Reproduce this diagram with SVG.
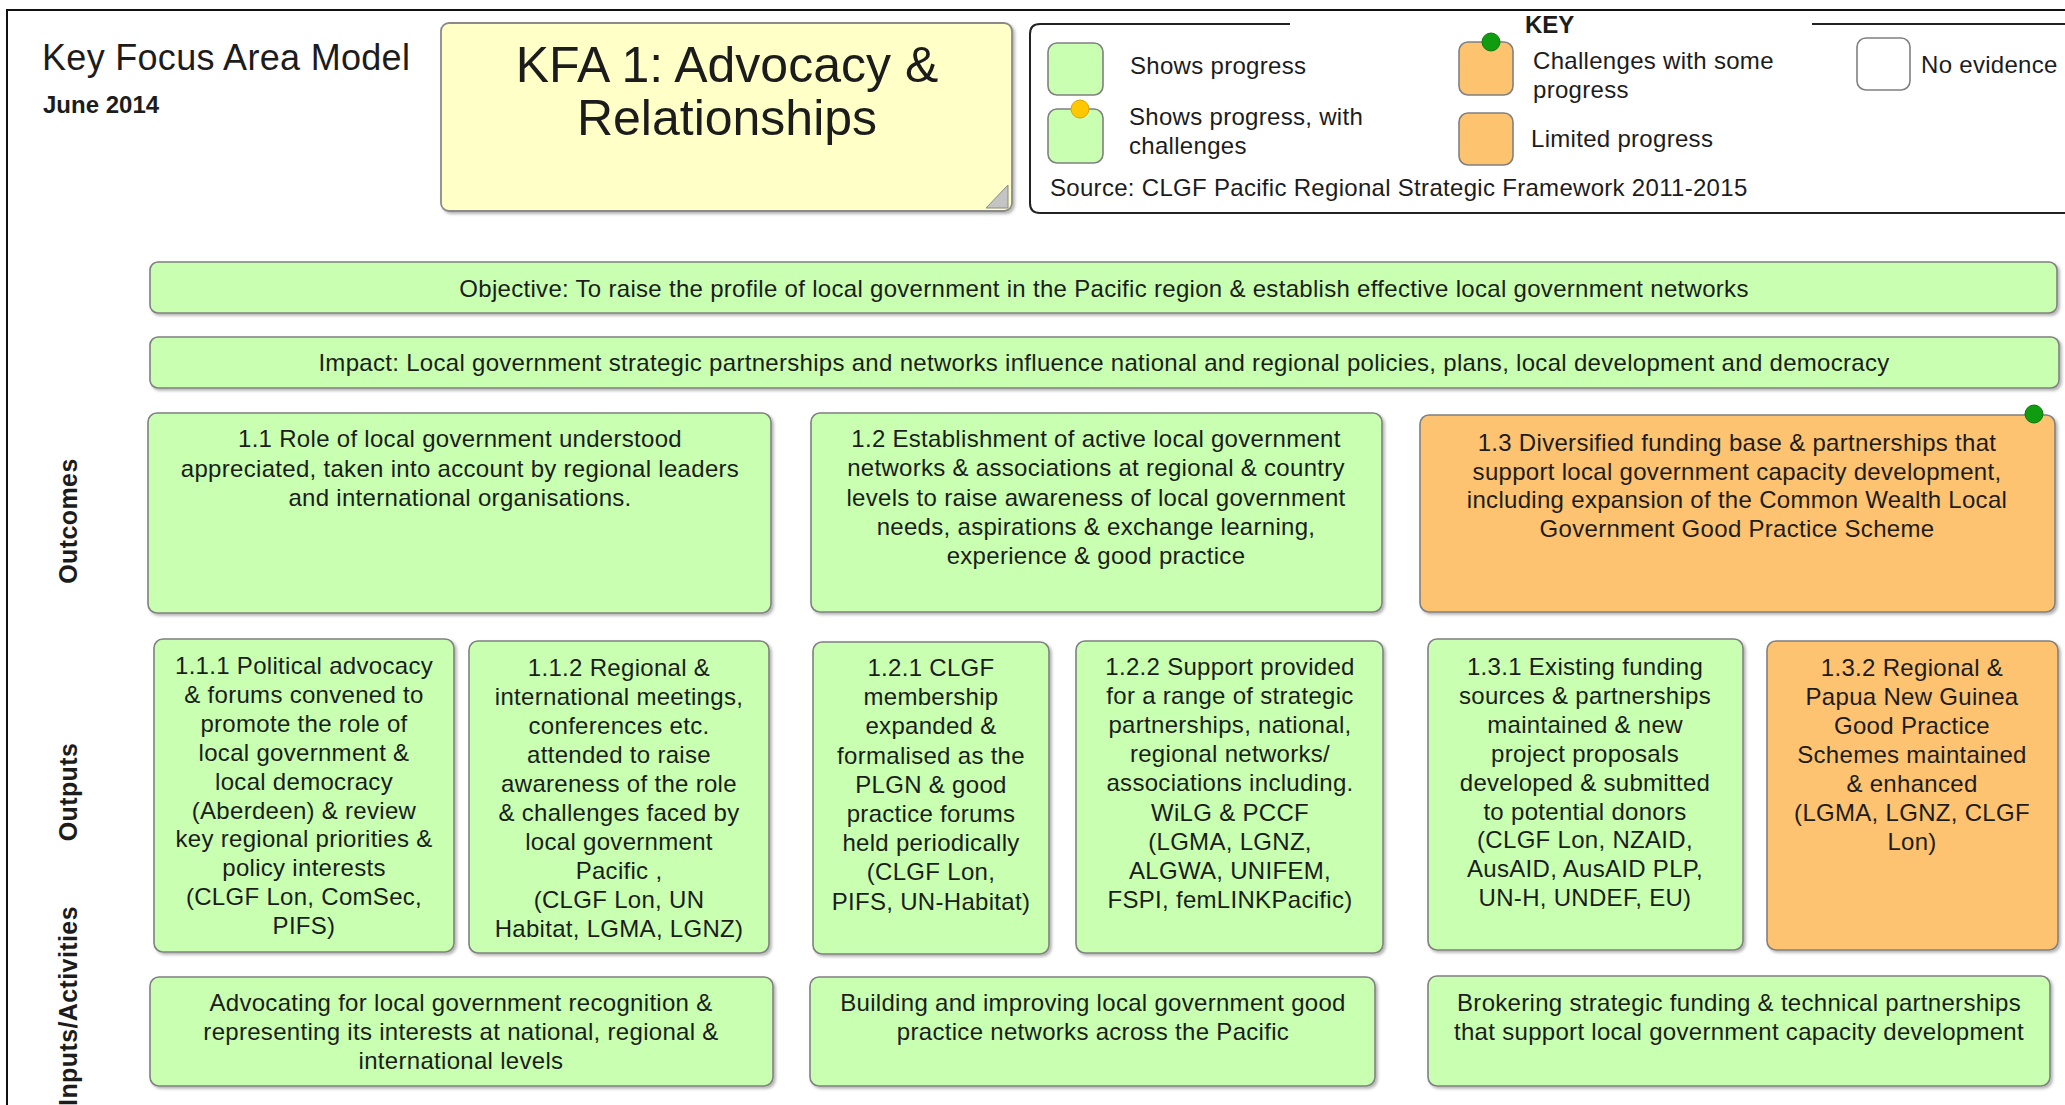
<svg xmlns="http://www.w3.org/2000/svg" width="2065" height="1105" viewBox="0 0 2065 1105">
<style>
text{font-family:"Liberation Sans",Arial,sans-serif;fill:#1c1c1c}
.t{font-size:24px;letter-spacing:0.3px;text-anchor:middle}
.k{font-size:24px;letter-spacing:0.3px}
.g{fill:#c8ffb0;stroke:#808080;stroke-width:1.6}
.o{fill:#fdc36f;stroke:#808080;stroke-width:1.6}
.side{font-size:25px;font-weight:bold;text-anchor:middle;letter-spacing:0.4px}
</style>
<defs>
<filter id="sh" x="-5%" y="-5%" width="110%" height="115%">
<feDropShadow dx="2" dy="2" stdDeviation="1.5" flood-color="#000" flood-opacity="0.3"/>
</filter>
</defs>
<rect width="2065" height="1105" fill="#fff"/>
<path d="M7,1110 V10 H2070" fill="none" stroke="#111" stroke-width="2"/>

<g id="header">
<text x="42" y="70" style="font-size:36px;letter-spacing:0.3px">Key Focus Area Model</text>
<text x="43" y="113" style="font-size:24px;font-weight:bold">June 2014</text>
</g>

<g id="kfa-title">
<rect x="441" y="23" width="571" height="188" rx="8" fill="#ffffc8" stroke="#8a8a8a" stroke-width="1.8" filter="url(#sh)"/>
<polygon points="1008,185 986,208 1008,208" fill="#c4c4c4" stroke="#8a8a8a" stroke-width="1"/>
<text x="727" y="82" style="font-size:50px;text-anchor:middle">KFA 1: Advocacy &amp;</text>
<text x="727" y="135" style="font-size:50px;text-anchor:middle">Relationships</text>
</g>

<g id="key">
<path d="M1290,24 H1040 Q1030,24 1030,34 V203 Q1030,213 1040,213 H2070 M1812,24 H2070" fill="none" stroke="#222" stroke-width="2"/>
<text x="1525" y="33" style="font-size:24px;font-weight:bold">KEY</text>
<rect class="g" x="1048" y="43" width="55" height="52" rx="9"/>
<text class="k" x="1130" y="74">Shows progress</text>
<rect class="g" x="1048" y="109" width="55" height="54" rx="9"/>
<circle cx="1080" cy="109" r="9" fill="#ffc800" stroke="#d9a800" stroke-width="1"/>
<text class="k" x="1129" y="125">Shows progress, with</text>
<text class="k" x="1129" y="154">challenges</text>
<rect class="o" x="1459" y="42" width="54" height="53" rx="9"/>
<circle cx="1491" cy="42" r="9" fill="#109c10" stroke="#0a7a0a" stroke-width="1"/>
<text class="k" x="1533" y="69">Challenges with some</text>
<text class="k" x="1533" y="98">progress</text>
<rect class="o" x="1459" y="113" width="54" height="52" rx="9"/>
<text class="k" x="1531" y="147">Limited progress</text>
<rect x="1857" y="38" width="53" height="52" rx="9" fill="#fff" stroke="#808080" stroke-width="1.6"/>
<text class="k" x="1921" y="73">No evidence</text>
<text class="k" x="1050" y="196">Source: CLGF Pacific Regional Strategic Framework 2011-2015</text>
</g>

<g id="side-labels">
<text class="side" transform="translate(77,521) rotate(-90)">Outcomes</text>
<text class="side" transform="translate(77,792) rotate(-90)">Outputs</text>
<text class="side" transform="translate(77,1006) rotate(-90)">Inputs/Activities</text>
</g>

<g id="objective">
<rect class="g" x="150" y="262" width="1907" height="51" rx="8" filter="url(#sh)"/>
<text class="t" x="1104" y="297">Objective: To raise the profile of local government in the Pacific region &amp; establish effective local government networks</text>
</g>

<g id="impact">
<rect class="g" x="150" y="337" width="1909" height="51" rx="8" filter="url(#sh)"/>
<text class="t" x="1104" y="371">Impact: Local government strategic partnerships and networks influence national and regional policies, plans, local development and democracy</text>
</g>

<g id="outcome-1-1">
<rect class="g" x="148" y="413" width="623" height="200" rx="9" filter="url(#sh)"/>
<text class="t" x="460" y="447"><tspan x="460">1.1 Role of local government understood</tspan><tspan x="460" dy="29.5">appreciated, taken into account by regional leaders</tspan><tspan x="460" dy="29.5">and international organisations.</tspan></text>
</g>

<g id="outcome-1-2">
<rect class="g" x="811" y="413" width="571" height="199" rx="9" filter="url(#sh)"/>
<text class="t" x="1096" y="447"><tspan x="1096">1.2 Establishment of active local government</tspan><tspan x="1096" dy="29.3">networks &amp; associations at regional &amp; country</tspan><tspan x="1096" dy="29.3">levels to raise awareness of local government</tspan><tspan x="1096" dy="29.3">needs, aspirations &amp; exchange learning,</tspan><tspan x="1096" dy="29.3">experience &amp; good practice</tspan></text>
</g>

<g id="outcome-1-3">
<rect class="o" x="1420" y="415" width="635" height="197" rx="9" filter="url(#sh)"/>
<circle cx="2034" cy="414" r="9" fill="#109c10" stroke="#0a7a0a" stroke-width="1"/>
<text class="t" x="1737" y="451"><tspan x="1737">1.3 Diversified funding base &amp; partnerships that</tspan><tspan x="1737" dy="28.6">support local government capacity development,</tspan><tspan x="1737" dy="28.6">including expansion of the Common Wealth Local</tspan><tspan x="1737" dy="28.6">Government Good Practice Scheme</tspan></text>
</g>

<g id="output-1-1-1">
<rect class="g" x="154" y="639" width="300" height="313" rx="9" filter="url(#sh)"/>
<text class="t" x="304" y="674"><tspan x="304">1.1.1 Political advocacy</tspan><tspan x="304" dy="28.9">&amp; forums convened to</tspan><tspan x="304" dy="28.9">promote the role of</tspan><tspan x="304" dy="28.9">local government &amp;</tspan><tspan x="304" dy="28.9">local democracy</tspan><tspan x="304" dy="28.9">(Aberdeen) &amp; review</tspan><tspan x="304" dy="28.9">key regional priorities &amp;</tspan><tspan x="304" dy="28.9">policy interests</tspan><tspan x="304" dy="28.9">(CLGF Lon, ComSec,</tspan><tspan x="304" dy="28.9">PIFS)</tspan></text>
</g>

<g id="output-1-1-2">
<rect class="g" x="469" y="641" width="300" height="312" rx="9" filter="url(#sh)"/>
<text class="t" x="619" y="676"><tspan x="619">1.1.2 Regional &amp;</tspan><tspan x="619" dy="29">international meetings,</tspan><tspan x="619" dy="29">conferences etc.</tspan><tspan x="619" dy="29">attended to raise</tspan><tspan x="619" dy="29">awareness of the role</tspan><tspan x="619" dy="29">&amp; challenges faced by</tspan><tspan x="619" dy="29">local government</tspan><tspan x="619" dy="29">Pacific ,</tspan><tspan x="619" dy="29">(CLGF Lon, UN</tspan><tspan x="619" dy="29">Habitat, LGMA, LGNZ)</tspan></text>
</g>

<g id="output-1-2-1">
<rect class="g" x="813" y="642" width="236" height="312" rx="9" filter="url(#sh)"/>
<text class="t" x="931" y="676"><tspan x="931">1.2.1 CLGF</tspan><tspan x="931" dy="29.2">membership</tspan><tspan x="931" dy="29.2">expanded &amp;</tspan><tspan x="931" dy="29.2">formalised as the</tspan><tspan x="931" dy="29.2">PLGN &amp; good</tspan><tspan x="931" dy="29.2">practice forums</tspan><tspan x="931" dy="29.2">held periodically</tspan><tspan x="931" dy="29.2">(CLGF Lon,</tspan><tspan x="931" dy="29.2">PIFS, UN-Habitat)</tspan></text>
</g>

<g id="output-1-2-2">
<rect class="g" x="1076" y="641" width="307" height="312" rx="9" filter="url(#sh)"/>
<text class="t" x="1230" y="675"><tspan x="1230">1.2.2 Support provided</tspan><tspan x="1230" dy="29.1">for a range of strategic</tspan><tspan x="1230" dy="29.1">partnerships, national,</tspan><tspan x="1230" dy="29.1">regional networks/</tspan><tspan x="1230" dy="29.1">associations including.</tspan><tspan x="1230" dy="29.1">WiLG &amp; PCCF</tspan><tspan x="1230" dy="29.1">(LGMA, LGNZ,</tspan><tspan x="1230" dy="29.1">ALGWA, UNIFEM,</tspan><tspan x="1230" dy="29.1">FSPI, femLINKPacific)</tspan></text>
</g>

<g id="output-1-3-1">
<rect class="g" x="1428" y="639" width="315" height="311" rx="9" filter="url(#sh)"/>
<text class="t" x="1585" y="675"><tspan x="1585">1.3.1 Existing funding</tspan><tspan x="1585" dy="28.9">sources &amp; partnerships</tspan><tspan x="1585" dy="28.9">maintained &amp; new</tspan><tspan x="1585" dy="28.9">project proposals</tspan><tspan x="1585" dy="28.9">developed &amp; submitted</tspan><tspan x="1585" dy="28.9">to potential donors</tspan><tspan x="1585" dy="28.9">(CLGF Lon, NZAID,</tspan><tspan x="1585" dy="28.9">AusAID, AusAID PLP,</tspan><tspan x="1585" dy="28.9">UN-H, UNDEF, EU)</tspan></text>
</g>

<g id="output-1-3-2">
<rect class="o" x="1767" y="641" width="291" height="309" rx="9" filter="url(#sh)"/>
<text class="t" x="1912" y="676"><tspan x="1912">1.3.2 Regional &amp;</tspan><tspan x="1912" dy="29">Papua New Guinea</tspan><tspan x="1912" dy="29">Good Practice</tspan><tspan x="1912" dy="29">Schemes maintained</tspan><tspan x="1912" dy="29">&amp; enhanced</tspan><tspan x="1912" dy="29">(LGMA, LGNZ, CLGF</tspan><tspan x="1912" dy="29">Lon)</tspan></text>
</g>

<g id="activity-1">
<rect class="g" x="150" y="977" width="623" height="109" rx="9" filter="url(#sh)"/>
<text class="t" x="461" y="1011"><tspan x="461">Advocating for local government recognition &amp;</tspan><tspan x="461" dy="29">representing its interests at national, regional &amp;</tspan><tspan x="461" dy="29">international levels</tspan></text>
</g>

<g id="activity-2">
<rect class="g" x="810" y="977" width="565" height="109" rx="9" filter="url(#sh)"/>
<text class="t" x="1093" y="1011"><tspan x="1093">Building and improving local government good</tspan><tspan x="1093" dy="29">practice networks across the Pacific</tspan></text>
</g>

<g id="activity-3">
<rect class="g" x="1428" y="976" width="622" height="110" rx="9" filter="url(#sh)"/>
<text class="t" x="1739" y="1011"><tspan x="1739">Brokering strategic funding &amp; technical partnerships</tspan><tspan x="1739" dy="29">that support local government capacity development</tspan></text>
</g>

<g id="connectors"></g>
</svg>
